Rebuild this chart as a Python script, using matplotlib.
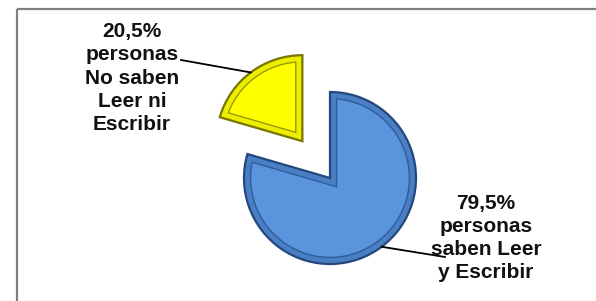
"""
Gráfico de pastel: personas que saben leer y escribir
"""
import matplotlib.pyplot as plt
import matplotlib.patches as mpatches
import numpy as np

# datos
values = [20.5, 79.5]
groups = ["No saben\nLeer ni\nEscribir", "saben Leer\ny Escribir"]
fills = ["#FFFF00", "#5A94DC"]
outlines = ["#767600", "#24487E"]
bands = ["#EDED00", "#4A7FC4"]
inners = ["#9A9A00", "#2E5C9C"]

labels = [
    f"{v:.1f}%".replace(".", ",") + "\npersonas\n" + g for v, g in zip(values, groups)
]

fig = plt.figure(figsize=(5.96, 3.01), dpi=100)
ax = fig.add_axes([0, 0, 1, 1])

cx, cy, r = 330, 123, 86
wedges, _ = ax.pie(
    values,
    colors=fills,
    startangle=90,
    counterclock=True,
    radius=r,
    center=(cx, cy),
    explode=[0.535 * r, 0],
    frame=True,
    wedgeprops=dict(linewidth=0),
)

# efecto bisel
for w, dark, band, inner in zip(wedges, outlines, bands, inners):
    for lw, col in [(10.5, inner), (8.5, band)]:
        b = mpatches.Wedge(w.center, w.r, w.theta1, w.theta2, fill=False,
                           edgecolor=col, linewidth=lw, joinstyle="miter")
        ax.add_patch(b)
        b.set_clip_path(w)
    ax.add_patch(mpatches.Wedge(w.center, w.r, w.theta1, w.theta2, fill=False,
                                edgecolor=dark, linewidth=1.6, joinstyle="miter"))

# etiquetas con líneas guía
text_pos = [(132, 223), (486, 63)]
line_end = [(181, 241), (445, 44)]
for w, lab, tp, le in zip(wedges, labels, text_pos, line_end):
    m = np.deg2rad((w.theta1 + w.theta2) / 2)
    x0 = w.center[0] + w.r * np.cos(m)
    y0 = w.center[1] + w.r * np.sin(m)
    ax.plot([x0, le[0]], [y0, le[1]], color="black", linewidth=1.3)
    ax.text(tp[0], tp[1], lab, ha="center", va="center", multialignment="center",
            fontsize=15, fontweight="bold", family="Liberation Sans",
            linespacing=1.28, color="#111111")

# marco
ax.plot([16.5, 596], [292, 292], color="#808080", linewidth=1.6, solid_capstyle="butt")
ax.plot([16.5, 16.5], [292, 0], color="#808080", linewidth=1.6, solid_capstyle="butt")

ax.set_xlim(0, 596)
ax.set_ylim(0, 301)
ax.set_aspect("auto")
ax.axis("off")

plt.savefig("out.png", dpi=100)
plt.close()
